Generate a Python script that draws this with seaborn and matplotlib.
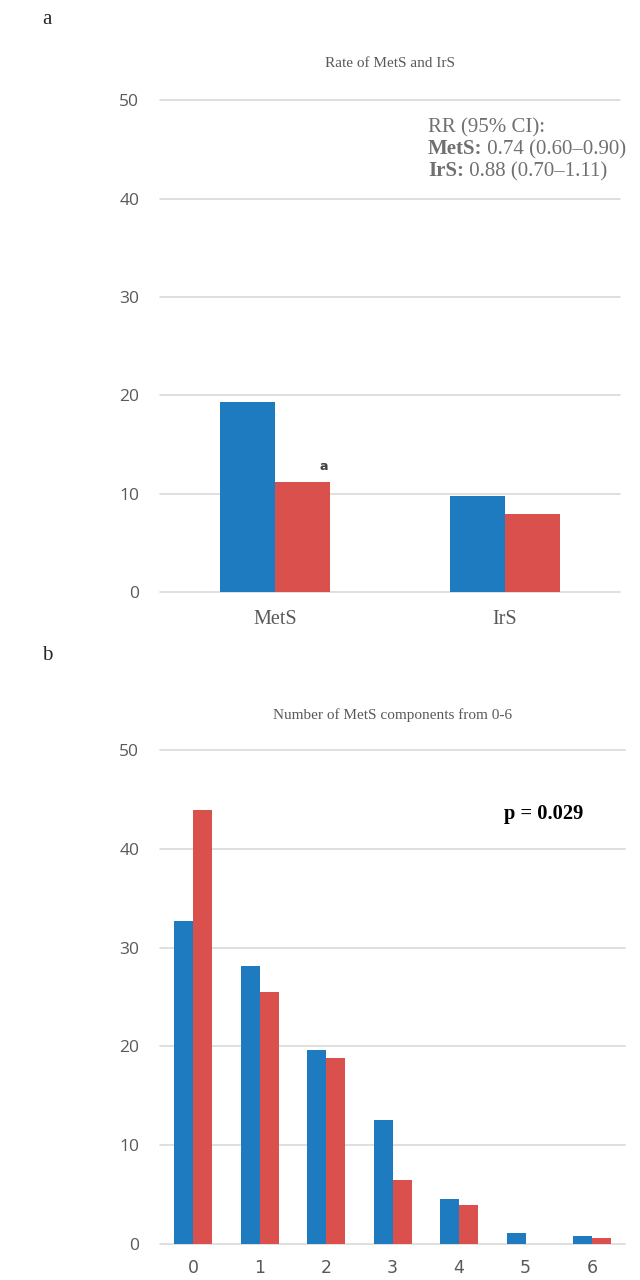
import matplotlib
matplotlib.use("Agg")
import matplotlib.pyplot as plt
import seaborn as sns
import pandas as pd

# panel a: rate of MetS and IrS (%)
rate_cats = ["MetS", "IrS"]
rate_group1 = [19.3, 9.8]
rate_group2 = [11.2, 7.9]

# panel b: number of MetS components (%)
comp_cats = ["0", "1", "2", "3", "4", "5", "6"]
comp_group1 = [32.7, 28.1, 19.6, 12.6, 4.6, 1.1, 0.8]
comp_group2 = [43.9, 25.5, 18.8, 6.5, 3.9, 0.0, 0.6]

groups = ["Group 1", "Group 2"]
colors = ["#1F7BBF", "#D9504C"]

def long_df(cats, g1, g2):
    return pd.DataFrame({
        "cat": cats + cats,
        "value": g1 + g2,
        "group": [groups[0]] * len(cats) + [groups[1]] * len(cats),
    })

sns.set_style("white")
serif = ["Liberation Serif", "DejaVu Serif"]
sans = ["Open Sans", "DejaVu Sans"]
grey = "#595959"

fig = plt.figure(figsize=(6.4, 12.8), dpi=100)
ax_a = fig.add_axes([0.25, 0.5375, 0.719, 0.384])
ax_b = fig.add_axes([0.25, 0.0281, 0.727, 0.386])

def style_axis(ax, cats):
    ax.set_ylim(0, 50)
    ax.set_xlim(-0.5, len(cats) - 0.5)
    ax.set_yticks([0, 10, 20, 30, 40, 50])
    ax.yaxis.grid(True, color="#d9d9d9", lw=1.2)
    for gl in ax.get_ygridlines():
        gl.set_clip_on(False)
    ax.set_axisbelow(True)
    sns.despine(ax=ax, left=True, bottom=True)
    ax.tick_params(axis="both", length=0, labelsize=12.5, labelcolor=grey, pad=15)
    ax.tick_params(axis="x", pad=11)
    for lab in ax.get_yticklabels():
        lab.set_family(sans)
    ax.set_xlabel("")
    ax.set_ylabel("")
    leg = ax.get_legend()
    if leg:
        leg.remove()

# panel a
sns.barplot(data=long_df(rate_cats, rate_group1, rate_group2), x="cat", y="value",
            hue="group", palette=colors, width=0.48, gap=0, saturation=1,
            linewidth=0, ax=ax_a, errorbar=None)
style_axis(ax_a, rate_cats)
for lab in ax_a.get_xticklabels():
    lab.set_family(serif)
    lab.set_fontsize(14.5)
ax_a.tick_params(axis="x", pad=13)
ax_a.set_title("Rate of MetS and IrS", family=serif, fontsize=11, color=grey, pad=24)
ax_a.text(0.21, 12.4, "a", fontsize=9, fontweight="bold", color="#404040", ha="center")
rr_x = 0.582
rr_y = 0.935
fs = 15
ax_a.text(rr_x, rr_y, "RR (95% CI):", transform=ax_a.transAxes, family=serif,
          fontsize=fs, color="#707070", va="baseline")
rr = [("MetS:", " 0.74 (0.60\u20130.90)"), ("IrS:", " 0.88 (0.70\u20131.11)")]
for i, (b, rest) in enumerate(rr):
    y = rr_y - 0.0448 * (i + 1)
    tb = ax_a.text(rr_x, y, b, transform=ax_a.transAxes, family=serif, fontsize=fs,
                   fontweight="bold", color="#707070", va="baseline")
    ax_a.annotate(rest, xy=(1, 0), xycoords=tb, family=serif, fontsize=fs,
                  color="#707070", va="bottom")

# panel b
sns.barplot(data=long_df(comp_cats, comp_group1, comp_group2), x="cat", y="value",
            hue="group", palette=colors, width=0.57, gap=0, saturation=1,
            linewidth=0, ax=ax_b, errorbar=None)
style_axis(ax_b, comp_cats)
ax_b.set_title("Number of MetS components from 0-6", family=serif, fontsize=11,
               color=grey, pad=22)
ax_b.text(0.91, 0.87, "p = 0.029", transform=ax_b.transAxes, family=serif,
          fontsize=14.8, fontweight="bold", color="black", ha="right", va="center")

fig.text(0.066, 0.985, "a", family=serif, fontsize=15, va="center")
fig.text(0.066, 0.488, "b", family=serif, fontsize=15, va="center")

fig.savefig("out.png", dpi=100)
